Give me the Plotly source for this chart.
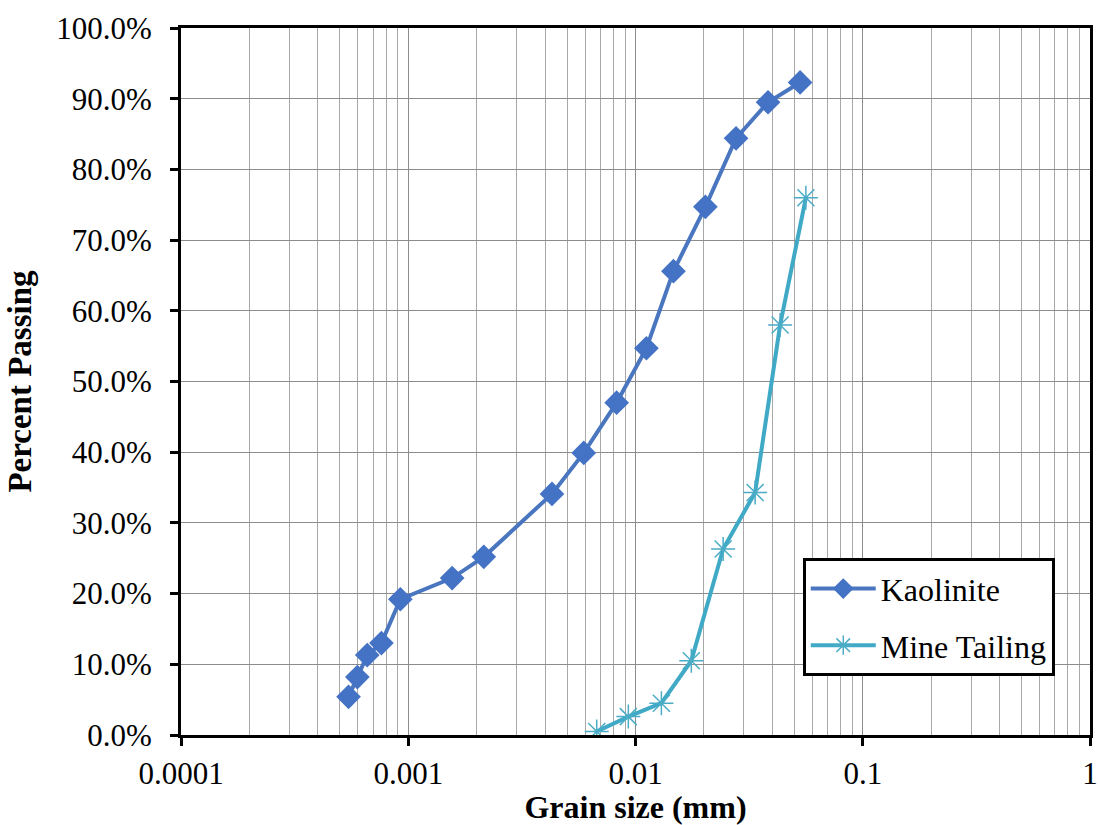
import plotly.graph_objects as go

kaolinite_size = [0.000546, 0.000597, 0.00066, 0.000762, 0.000923, 0.00156, 0.00215,
                  0.00429, 0.00592, 0.00826, 0.01117, 0.01469, 0.0203, 0.0277, 0.0383, 0.0530]
kaolinite_pass = [5.4, 8.2, 11.3, 13.0, 19.2, 22.2, 25.2, 34.1, 39.9, 47.0, 54.7, 65.6,
                  74.7, 84.4, 89.5, 92.3]

tailing_size = [0.00675, 0.0093, 0.0130, 0.0176, 0.0243, 0.0336, 0.0433, 0.0562]
tailing_pass = [0.5, 2.6, 4.5, 10.5, 26.3, 34.3, 58.0, 76.0]

x_tickvals = [0.0001, 0.001, 0.01, 0.1, 1]
x_ticktext = ["0.0001", "0.001", "0.01", "0.1", "1"]
y_tickvals = [0, 10, 20, 30, 40, 50, 60, 70, 80, 90, 100]
y_ticktext = [f"{v:.1f}%" for v in y_tickvals]

FONT = "Liberation Serif, Times New Roman, serif"

fig = go.Figure()
fig.add_trace(go.Scatter(
    x=kaolinite_size, y=kaolinite_pass, name="Kaolinite", mode="lines+markers",
    legendgroup="k",
    line=dict(color="#4A76C0", width=4),
    marker=dict(symbol="diamond", size=19, color="#4472C4", line=dict(width=0)),
))
fig.add_trace(go.Scatter(
    x=tailing_size, y=tailing_pass, name="Mine Tailing", mode="lines+markers",
    legendgroup="t",
    line=dict(color="#3FA9C6", width=4),
    marker=dict(symbol="asterisk-open", size=20, color="#4BACC6",
                line=dict(width=1.5, color="#4BACC6")),
))

fig.update_layout(
    width=1098, height=825,
    margin=dict(l=181, r=8, t=28, b=90, autoexpand=False),
    paper_bgcolor="white", plot_bgcolor="white",
    font=dict(family=FONT, size=31, color="black"),
    showlegend=True,
    legend=dict(
        x=0.684, y=0.25, xanchor="left", yanchor="top",
        bgcolor="white", bordercolor="black", borderwidth=3,
        font=dict(family=FONT, size=32, color="black"),
        itemwidth=65, traceorder="grouped", tracegroupgap=12,
    ),
)
fig.update_xaxes(
    type="log", range=[-4, 0], automargin=False,
    tickvals=x_tickvals, ticktext=x_ticktext,
    ticklabeloverflow="allow",
    showgrid=True, gridcolor="#8C8C8C", gridwidth=1,
    minor=dict(dtick="D1", showgrid=True, gridcolor="#A8A8A8", gridwidth=1, ticks=""),
    showline=True, linecolor="black", linewidth=3, mirror=True,
    ticks="outside", ticklen=8, tickwidth=3, tickcolor="black",
    tickfont=dict(family=FONT, size=31),
    ticklabelstandoff=1,
    title=dict(text="<b>Grain size (mm)</b>", font=dict(family=FONT, size=32), standoff=2),
    zeroline=False,
)
fig.update_yaxes(
    range=[0, 100], automargin=False,
    tickvals=y_tickvals, ticktext=y_ticktext,
    ticklabeloverflow="allow",
    showgrid=True, gridcolor="#8C8C8C", gridwidth=1,
    showline=True, linecolor="black", linewidth=3, mirror=True,
    ticks="outside", ticklen=8, tickwidth=3, tickcolor="black",
    tickfont=dict(family=FONT, size=31),
    ticklabelstandoff=12,
    title=dict(text="<b>Percent Passing</b>", font=dict(family=FONT, size=33), standoff=15),
    zeroline=False,
)

fig.write_html("out.html", config={"displayModeBar": False},
               post_script="document.body.style.margin='0px';")
